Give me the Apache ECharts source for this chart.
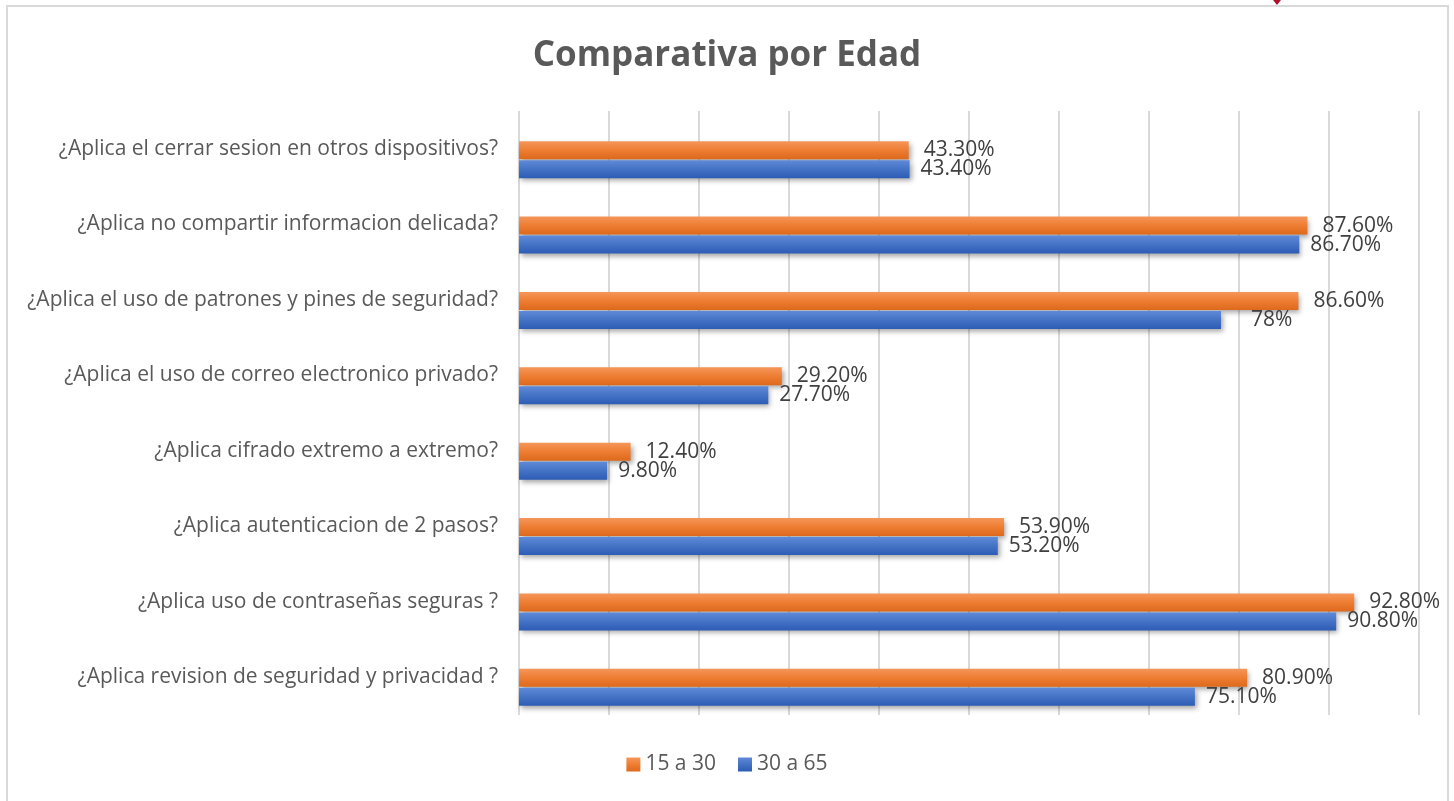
<!DOCTYPE html>
<html>
<head>
<meta charset="utf-8">
<script src="https://cdn.jsdelivr.net/npm/echarts@6/dist/echarts.min.js"></script>
<style>
  html, body { margin: 0; padding: 0; background: #fff; }
  #chart { width: 1454px; height: 801px; }
</style>
</head>
<body>
<div id="chart"></div>
<script>
// datos (de arriba hacia abajo)
const categories = [
  '¿Aplica el cerrar sesion en otros dispositivos?',
  '¿Aplica no compartir informacion delicada?',
  '¿Aplica el uso de patrones y pines de seguridad?',
  '¿Aplica el uso de correo electronico privado?',
  '¿Aplica cifrado extremo a extremo?',
  '¿Aplica autenticacion de 2 pasos?',
  '¿Aplica uso de contraseñas seguras ?',
  '¿Aplica revision de seguridad y privacidad ?'
];
const joven = [43.3, 87.6, 86.6, 29.2, 12.4, 53.9, 92.8, 80.9];   // 15 a 30
const adulto = [43.4, 86.7, 78, 27.7, 9.8, 53.2, 90.8, 75.1];     // 30 a 65
const jovenLabels = ['43.30%', '87.60%', '86.60%', '29.20%', '12.40%', '53.90%', '92.80%', '80.90%'];
const adultoLabels = ['43.40%', '86.70%', '78%', '27.70%', '9.80%', '53.20%', '90.80%', '75.10%'];
const xTicks = [0, 10, 20, 30, 40, 50, 60, 70, 80, 90, 100];

const FONT = '"Open Sans", sans-serif';

function grad(top, mid, bottom) {
  return new echarts.graphic.LinearGradient(0, 0, 0, 1, [
    { offset: 0, color: top },
    { offset: 0.5, color: mid },
    { offset: 1, color: bottom }
  ]);
}

const chart = echarts.init(document.getElementById('chart'));
chart.setOption({
  backgroundColor: '#fff',
  animation: false,
  title: {
    text: 'Comparativa por Edad',
    left: 'center',
    top: 34,
    textStyle: { fontFamily: FONT, fontSize: 35, fontWeight: 'bold', color: '#595959' }
  },
  legend: {
    data: ['15 a 30', '30 a 65'],
    bottom: 21,
    left: 'center',
    icon: 'rect',
    itemWidth: 14,
    itemHeight: 14,
    itemGap: 22,
    textStyle: { fontFamily: FONT, fontSize: 21, color: '#595959' }
  },
  graphic: [
    {
      type: 'rect',
      shape: { x: 7, y: 6, width: 1441, height: 810 },
      style: { fill: 'none', stroke: '#d9d9d9', lineWidth: 2 },
      silent: true
    },
    {
      type: 'polygon',
      shape: { points: [[1273, 0], [1281, 0], [1277, 5]] },
      style: { fill: '#b0102a' },
      silent: true
    }
  ],
  grid: [
    // rejilla para las lineas verticales y las etiquetas
    { left: 519, right: 35, top: 111, bottom: 86 },
    // rejilla de las barras
    { left: 519, right: 35, top: 122, bottom: 76 }
  ],
  xAxis: [
    {
      gridIndex: 0, type: 'value', min: xTicks[0], max: xTicks[xTicks.length - 1], interval: 10,
      axisLine: { show: false }, axisTick: { show: false }, axisLabel: { show: false },
      splitLine: { show: true, lineStyle: { color: '#d9d9d9', width: 2 } }
    },
    {
      gridIndex: 1, type: 'value', min: 0, max: 100,
      axisLine: { show: false }, axisTick: { show: false }, axisLabel: { show: false },
      splitLine: { show: false }
    }
  ],
  yAxis: [
    {
      gridIndex: 0, type: 'category', data: categories, inverse: true,
      axisLine: { show: false }, axisTick: { show: false },
      axisLabel: { margin: 21, fontFamily: FONT, fontSize: 21, color: '#595959' }
    },
    {
      gridIndex: 1, type: 'category', data: categories, inverse: true,
      axisLine: { show: false }, axisTick: { show: false }, axisLabel: { show: false }
    }
  ],
  series: [
    {
      name: '15 a 30',
      type: 'bar',
      xAxisIndex: 1,
      yAxisIndex: 1,
      data: joven,
      barWidth: 18,
      barGap: '6%',
      itemStyle: {
        color: grad('#f5965a', '#ee7d32', '#dd691c'),
        shadowColor: 'rgba(0,0,0,0.35)', shadowBlur: 5, shadowOffsetX: 2, shadowOffsetY: 3
      },
      label: {
        show: true, position: 'right', distance: 15,
        fontFamily: FONT, fontSize: 21, color: '#404040',
        formatter: p => jovenLabels[p.dataIndex]
      }
    },
    {
      name: '30 a 65',
      type: 'bar',
      xAxisIndex: 1,
      yAxisIndex: 1,
      data: adulto.map((v, i) => i === 2 ? { value: v, label: { distance: 30 } } : v),
      barWidth: 18,
      itemStyle: {
        color: grad('#608ad8', '#4472c4', '#2d5cb6'),
        shadowColor: 'rgba(0,0,0,0.35)', shadowBlur: 5, shadowOffsetX: 2, shadowOffsetY: 3
      },
      label: {
        show: true, position: 'right', distance: 11,
        fontFamily: FONT, fontSize: 21, color: '#404040',
        formatter: p => adultoLabels[p.dataIndex]
      }
    }
  ]
});
</script>
</body>
</html>
